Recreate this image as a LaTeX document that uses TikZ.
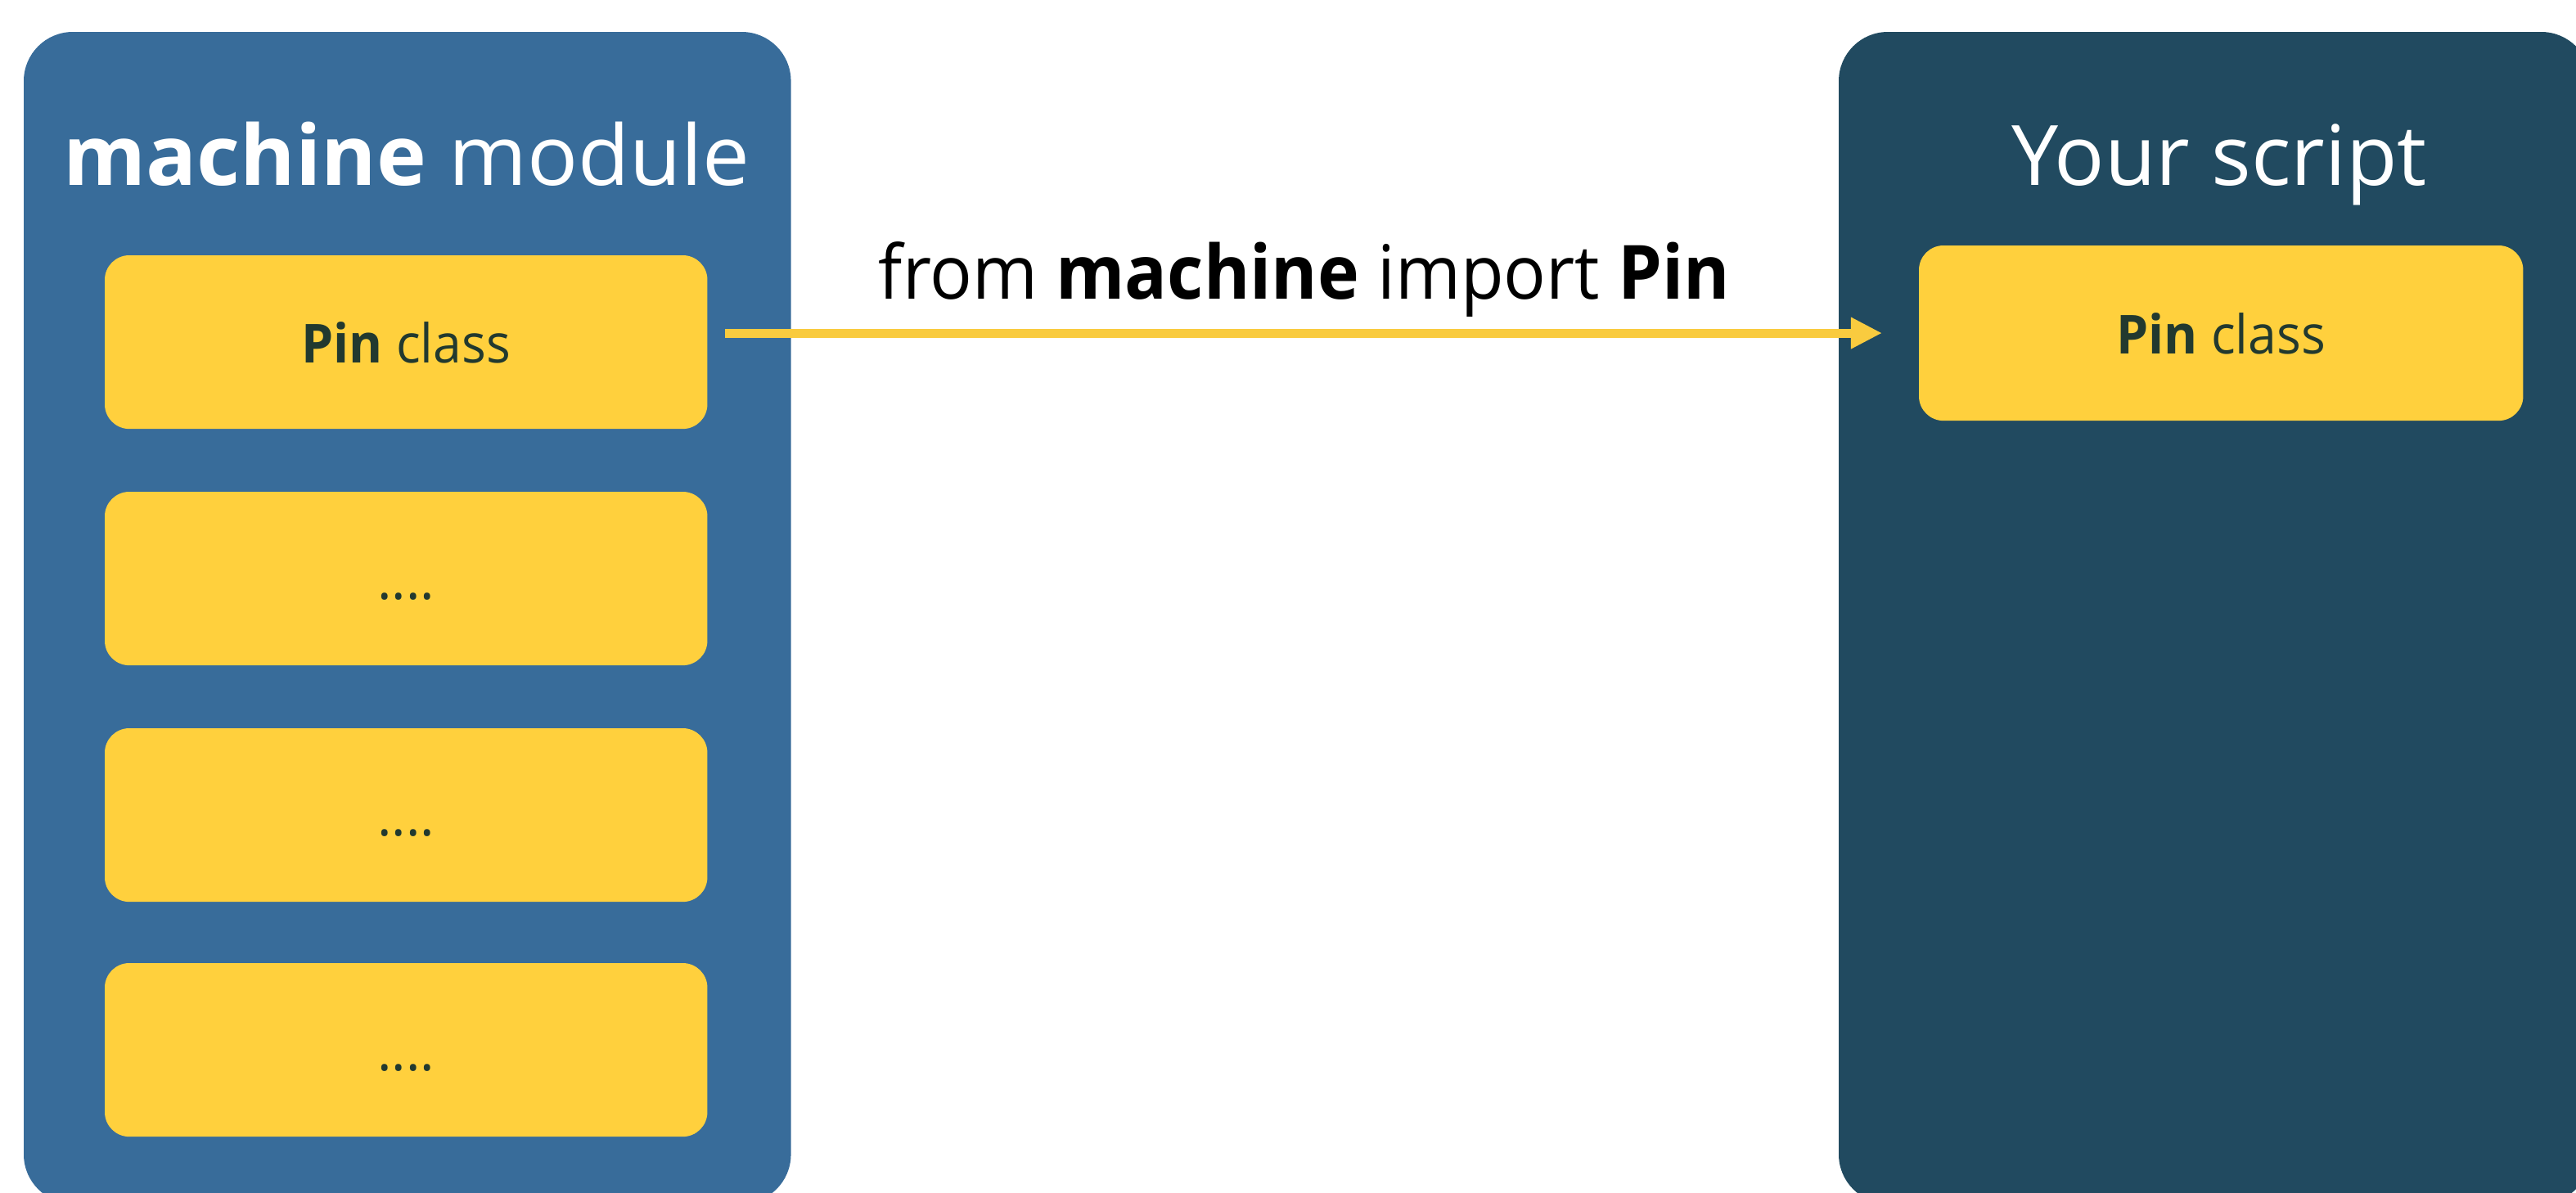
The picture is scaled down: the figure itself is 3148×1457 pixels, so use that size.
\documentclass[tikz,border=0pt]{standalone}
\usepackage{fontspec}
\setmainfont{Open Sans}
\usetikzlibrary{arrows.meta}
\definecolor{leftblue}{HTML}{386C9A}
\definecolor{darkpanel}{HTML}{214A60}
\definecolor{pinyellow}{HTML}{FFD03D}
\definecolor{boxtext}{HTML}{22392F}
\definecolor{arrowyellow}{HTML}{F9CB3F}
\begin{document}
\begin{tikzpicture}[x=0.01cm,y=-0.01cm,
  panel/.style={draw=none, rounded corners=0.6cm, anchor=north west, inner sep=0pt, outer sep=0pt},
  ybox/.style={fill=pinyellow, rounded corners=0.3cm, anchor=north west, inner sep=0pt, outer sep=0pt,
    minimum width=7.36cm, minimum height=2.12cm, text height=0.5cm, text depth=0pt,
    font=\fontsize{18.7}{22}\selectfont, text=boxtext},
  paneltitle/.style={anchor=base, text=white, font=\fontsize{29}{34}\selectfont, inner sep=0pt}]
\useasboundingbox (0,0) rectangle (3148,1457);
\clip (0,0) rectangle (3148,1457);
\fill[white] (0,0) rectangle (3148,1457);
% panels
\node[panel, fill=leftblue, minimum width=9.37cm, minimum height=14.31cm] (lpanel) at (29,39) {};
\node[panel, fill=darkpanel, minimum width=9.18cm, minimum height=14.31cm] (rpanel) at (2247,39) {};
% titles
\node[paneltitle] (ltitle) at (497,226) {\scalebox{1.01}[1]{\textbf{machine} module}};
\node[paneltitle] (rtitle) at (2712,226) {Your script};
% left boxes
\node[ybox] (lbox1) at (128,312) {\scalebox{0.95}[1]{\textbf{Pin} class}};
\node[ybox] (lbox2) at (128,601) {....};
\node[ybox] (lbox3) at (128,890) {....};
\node[ybox] (lbox4) at (128,1177) {....};
% right box
\node[ybox, minimum width=7.38cm, minimum height=2.14cm] (rbox) at (2345,300) {\scalebox{0.95}[1]{\textbf{Pin} class}};
% arrow
\draw[arrowyellow, line width=0.11cm, -{Triangle[length=0.38cm,width=0.36cm]},
  shorten <=0.22cm, shorten >=0.45cm] (lbox1.east |- rbox.west) -- (rbox.west);
\node[anchor=base, inner sep=0pt, font=\fontsize{26}{30}\selectfont] (imp) at (1594,365)
  {\scalebox{0.94}[1]{from \textbf{machine} import \textbf{Pin}}};
\end{tikzpicture}
\end{document}
